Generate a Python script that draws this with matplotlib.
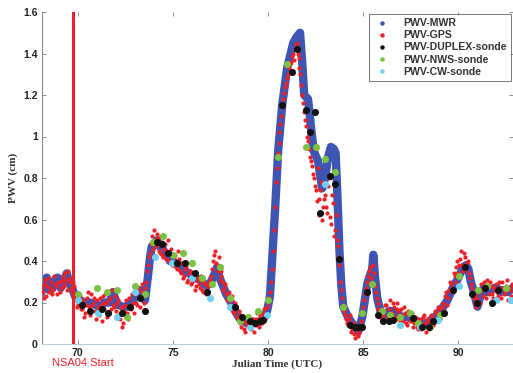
import numpy as np
import matplotlib
matplotlib.use("Agg")
import matplotlib.pyplot as plt
from matplotlib.lines import Line2D

# ---------------- data ----------------
mwr_t = [68.05, 68.2, 68.37, 68.5, 68.68, 68.8, 68.95, 69.1, 69.21, 69.42, 69.58, 69.74, 69.9,
         70.1, 70.4, 70.63, 70.9, 71.16, 71.4, 71.68, 71.84, 72.0, 72.1, 72.35, 72.58, 72.89,
         73.1, 73.26, 73.4, 73.53, 73.68, 73.8, 73.89, 74.0, 74.16, 74.3, 74.47, 74.6, 74.74,
         74.84, 75.0, 75.37, 75.6, 75.89, 76.1, 76.42, 76.6, 76.79, 77.0, 77.2, 77.32, 77.45,
         77.63, 77.8, 78.0, 78.26, 78.53, 78.89, 79.1, 79.42, 79.74, 79.95, 80.1, 80.21, 80.37,
         80.53, 80.74, 81.0, 81.32, 81.5, 81.68, 81.8, 81.9, 82.1, 82.25, 82.4, 82.63, 82.84,
         83.0, 83.15, 83.3, 83.45, 83.55, 83.65, 83.75, 83.85, 83.95, 84.2, 84.42, 84.6, 84.74,
         84.95, 85.1, 85.21, 85.35, 85.47, 85.53, 85.62, 85.74, 85.9, 86.05, 86.4, 86.79, 87.0,
         87.32, 87.6, 87.84, 88.1, 88.37, 88.6, 88.89, 89.2, 89.42, 89.7, 89.95, 90.1, 90.26,
         90.4, 90.53, 90.65, 90.79, 91.0, 91.15, 91.32, 91.5, 91.68, 91.9, 92.05, 92.2, 92.37,
         92.6, 92.84, 93.0]
mwr_v = [0.24, 0.30, 0.32, 0.26, 0.27, 0.31, 0.32, 0.27, 0.29, 0.34, 0.29, 0.26, 0.22,
         0.21, 0.20, 0.20, 0.19, 0.18, 0.20, 0.20, 0.25, 0.21, 0.19, 0.18, 0.18, 0.21,
         0.24, 0.26, 0.23, 0.21, 0.32, 0.42, 0.47, 0.48, 0.50, 0.47, 0.46, 0.43, 0.42,
         0.40, 0.40, 0.37, 0.35, 0.34, 0.32, 0.31, 0.29, 0.28, 0.30, 0.34, 0.37, 0.32,
         0.28, 0.24, 0.21, 0.16, 0.12, 0.10, 0.11, 0.10, 0.12, 0.16, 0.23, 0.40, 0.65,
         0.93, 1.15, 1.33, 1.45, 1.48, 1.50, 1.35, 1.20, 1.18, 1.05, 0.93, 0.88, 0.75,
         0.80, 0.90, 0.95, 0.94, 0.92, 0.70, 0.45, 0.28, 0.18, 0.13, 0.10, 0.08, 0.06,
         0.13, 0.22, 0.29, 0.33, 0.36, 0.43, 0.32, 0.22, 0.16, 0.14, 0.16, 0.15, 0.13,
         0.13, 0.12, 0.11, 0.10, 0.10, 0.12, 0.14, 0.18, 0.21, 0.27, 0.31, 0.34, 0.37,
         0.38, 0.36, 0.30, 0.26, 0.18, 0.23, 0.27, 0.25, 0.26, 0.27, 0.27, 0.25, 0.26,
         0.25, 0.27, 0.26]

gps_t0 = 68.1   # GPS samples every 0.1 day from 68.1
gps_v = [0.27, 0.22, 0.31, 0.28, 0.25, 0.30, 0.26, 0.29, 0.24,
         0.30, 0.27, 0.33, 0.28, 0.31, 0.35, 0.30, 0.25, 0.28, 0.21,
         0.19, 0.23, 0.17, 0.21, 0.15, 0.22, 0.18, 0.24, 0.20, 0.16,
         0.21, 0.14, 0.19, 0.23, 0.17, 0.20, 0.15, 0.22, 0.26, 0.18,
         0.16, 0.21, 0.12, 0.18, 0.10, 0.19, 0.15, 0.22, 0.17, 0.20,
         0.24, 0.19, 0.27, 0.22, 0.25, 0.20, 0.30, 0.38, 0.44, 0.52,
         0.55, 0.47, 0.51, 0.44, 0.49, 0.42, 0.48, 0.45, 0.40, 0.46,
         0.38, 0.43, 0.36, 0.41, 0.34, 0.39, 0.33, 0.37, 0.31, 0.35,
         0.30, 0.34, 0.28, 0.32, 0.27, 0.31, 0.25, 0.29, 0.26, 0.30,
         0.33, 0.40, 0.45, 0.38, 0.42, 0.35, 0.30, 0.27, 0.24, 0.22,
         0.19, 0.23, 0.15, 0.18, 0.12, 0.14, 0.08, 0.11, 0.06, 0.09,
         0.13, 0.07, 0.12, 0.09, 0.15, 0.08, 0.13, 0.10, 0.17, 0.14,
         0.20, 0.25, 0.36, 0.55, 0.78, 0.92, 1.02, 1.10, 1.18, 1.24,
         1.28, 1.33, 1.36, 1.40, 1.42, 1.45, 1.38, 1.30, 1.20, 1.12,
         1.05, 0.98, 0.90, 0.86, 0.80, 0.74, 0.85, 0.70, 0.78, 0.66,
         0.72, 0.63, 0.80, 0.58, 0.68, 0.55, 0.50, 0.42, 0.30, 0.22,
         0.16, 0.12, 0.09, 0.14, 0.07, 0.05, 0.09, 0.04, 0.06, 0.11,
         0.18, 0.24, 0.30, 0.35, 0.32, 0.38, 0.28, 0.22, 0.17, 0.13,
         0.11, 0.16, 0.19, 0.13, 0.21, 0.15, 0.18, 0.12, 0.20, 0.14,
         0.17, 0.11, 0.15, 0.09, 0.14, 0.12, 0.08, 0.13, 0.10, 0.07,
         0.12, 0.09, 0.14, 0.06, 0.11, 0.08, 0.13, 0.10, 0.15, 0.12,
         0.17, 0.14, 0.20, 0.23, 0.19, 0.26, 0.29, 0.25, 0.33, 0.37,
         0.34, 0.41, 0.38, 0.44, 0.36, 0.40, 0.32, 0.27, 0.22, 0.18,
         0.21, 0.25, 0.29, 0.23, 0.27, 0.31, 0.24, 0.28, 0.22, 0.26,
         0.29, 0.23, 0.27, 0.30, 0.24, 0.28, 0.21, 0.26, 0.29, 0.25]

gps2_t0 = 68.15   # interleaved GPS samples, every 0.1 day from 68.15
gps2_v = [0.25, 0.29, 0.23, 0.32, 0.27, 0.24, 0.33, 0.28, 0.30,
          0.25, 0.31, 0.29, 0.34, 0.26, 0.32, 0.27, 0.30, 0.23, 0.18,
          0.24, 0.17, 0.20, 0.13, 0.19, 0.25, 0.14, 0.19, 0.22, 0.12,
          0.18, 0.22, 0.11, 0.20, 0.24, 0.13, 0.21, 0.17, 0.19, 0.23,
          0.20, 0.14, 0.18, 0.08, 0.16, 0.21, 0.12, 0.18, 0.24, 0.15,
          0.20, 0.26, 0.18, 0.29, 0.23, 0.27, 0.35, 0.42, 0.48, 0.46,
          0.50, 0.53, 0.45, 0.52, 0.43, 0.46, 0.41, 0.50, 0.44, 0.38,
          0.42, 0.37, 0.45, 0.35, 0.39, 0.32, 0.36, 0.30, 0.34, 0.29,
          0.33, 0.26, 0.31, 0.29, 0.33, 0.26, 0.30, 0.24, 0.28, 0.31,
          0.36, 0.43, 0.39, 0.35, 0.31, 0.33, 0.26, 0.29, 0.21, 0.25,
          0.21, 0.16, 0.20, 0.13, 0.16, 0.10, 0.13, 0.07, 0.10, 0.12,
          0.08, 0.11, 0.06, 0.12, 0.09, 0.14, 0.10, 0.15, 0.12, 0.18,
          0.22, 0.30, 0.45, 0.66, 0.85, 0.97, 1.06, 1.14, 1.21, 1.26,
          1.30, 1.35, 1.39, 1.37, 1.44, 1.40, 1.33, 1.25, 1.16, 1.08,
          1.00, 0.94, 0.88, 0.82, 0.76, 0.69, 0.62, 0.74, 0.60, 0.70,
          0.66, 0.76, 0.61, 0.72, 0.52, 0.62, 0.47, 0.38, 0.26, 0.19,
          0.14, 0.10, 0.12, 0.06, 0.10, 0.03, 0.07, 0.05, 0.08, 0.15,
          0.21, 0.27, 0.33, 0.37, 0.30, 0.34, 0.25, 0.20, 0.15, 0.17,
          0.14, 0.19, 0.12, 0.17, 0.14, 0.20, 0.13, 0.17, 0.16, 0.11,
          0.14, 0.18, 0.10, 0.16, 0.11, 0.15, 0.10, 0.12, 0.08, 0.11,
          0.07, 0.13, 0.10, 0.12, 0.07, 0.14, 0.09, 0.16, 0.11, 0.18,
          0.12, 0.18, 0.16, 0.25, 0.22, 0.30, 0.27, 0.34, 0.30, 0.40,
          0.38, 0.45, 0.35, 0.42, 0.39, 0.34, 0.29, 0.24, 0.20, 0.23,
          0.26, 0.20, 0.26, 0.30, 0.22, 0.28, 0.30, 0.24, 0.27, 0.21,
          0.25, 0.30, 0.22, 0.27, 0.25, 0.31, 0.27, 0.23, 0.28]

duplex_t = [70.23, 70.65, 71.28, 71.59, 72.33, 72.75, 73.27, 73.53, 74.17, 74.43, 74.75,
            75.22, 75.64, 76.16, 76.79, 78.27, 78.64, 79.05, 79.32, 79.58, 79.74, 80.74,
            81.27, 81.54, 82.01, 82.48, 82.22, 82.74, 83.26, 83.53, 83.74, 84.32, 84.59,
            84.75, 84.96, 85.22, 85.75, 86.06, 86.33, 86.59, 87.64, 88.11, 88.43, 88.69,
            89.22, 89.74, 90.37, 90.73, 90.98, 91.41, 91.78, 92.09]
duplex_v = [0.19, 0.16, 0.17, 0.15, 0.15, 0.18, 0.22, 0.16, 0.49, 0.48, 0.44,
            0.39, 0.39, 0.34, 0.25, 0.18, 0.13, 0.11, 0.10, 0.11, 0.115, 1.15,
            1.31, 1.42, 1.13, 1.12, 1.02, 0.63, 0.81, 0.77, 0.41, 0.09, 0.08,
            0.08, 0.08, 0.25, 0.14, 0.11, 0.11, 0.115, 0.125, 0.08, 0.08, 0.11,
            0.15, 0.26, 0.37, 0.24, 0.20, 0.27, 0.20, 0.26]

nws_t = [70.02, 71.01, 71.54, 72.07, 72.59, 73.01, 73.54, 73.96, 74.48, 75.01, 75.53, 76.01,
         76.53, 77.06, 77.48, 78.0, 78.53, 78.95, 79.47, 80.0, 80.53, 81.0, 82.0, 82.53,
         83.0, 83.53, 83.95, 84.94, 85.48, 86.0, 86.42, 86.95, 87.48, 87.9, 88.53, 89.06,
         90.01, 91.01, 91.53, 92.48]
nws_v = [0.24, 0.27, 0.25, 0.26, 0.13, 0.28, 0.24, 0.49, 0.52, 0.43, 0.44, 0.39,
         0.32, 0.29, 0.37, 0.22, 0.11, 0.13, 0.16, 0.21, 0.90, 1.35, 0.95, 0.95,
         0.89, 0.83, 0.18, 0.15, 0.29, 0.16, 0.14, 0.13, 0.15, 0.10, 0.08, 0.14,
         0.33, 0.26, 0.28, 0.27]

cw_t = [70.02, 71.07, 72.07, 73.01, 74.06, 74.96, 76.01, 76.96, 78.0, 79.05, 79.95, 83.0,
        86.95, 88.0, 88.93, 90.01, 91.96, 92.75]
cw_v = [0.21, 0.15, 0.13, 0.25, 0.42, 0.39, 0.32, 0.22, 0.18, 0.08, 0.14, 0.77,
        0.09, 0.08, 0.115, 0.28, 0.21, 0.21]

start_t = 69.75
labels = ["PWV-MWR", "PWV-GPS", "PWV-DUPLEX-sonde", "PWV-NWS-sonde", "PWV-CW-sonde"]
colors = ["#3f55b3", "#ee2026", "#111111", "#7cc242", "#6fd0f2"]

# ---------------- plot ----------------
fig = plt.figure(figsize=(5.13, 3.73), dpi=100)
ax = fig.add_axes([42 / 513, 29 / 373, 471 / 513, 332 / 373])

gps_t = gps_t0 + 0.1 * np.arange(len(gps_v))
gps2_t = gps2_t0 + 0.1 * np.arange(len(gps2_v))

ax.plot(mwr_t, mwr_v, color=colors[0], lw=6, solid_capstyle="round",
        solid_joinstyle="round", zorder=2)
ax.scatter(gps_t, gps_v, s=9, color=colors[1], marker="o", linewidths=0, zorder=3)
ax.scatter(gps2_t, gps2_v, s=9, color=colors[1], marker="o", linewidths=0, zorder=3)
ax.scatter(duplex_t, duplex_v, s=26, color=colors[2], linewidths=0, zorder=5)
ax.scatter(nws_t, nws_v, s=26, color=colors[3], linewidths=0, zorder=4)
ax.scatter(cw_t, cw_v, s=26, color=colors[4], linewidths=0, zorder=4)

ax.axvline(start_t, color="#ee2026", lw=2.2, zorder=6)

ax.set_xlim(68.12, 92.87)
ax.set_ylim(0, 1.6)
ax.set_xticks([70, 75, 80, 85, 90])
ax.set_yticks(np.arange(0, 1.61, 0.2))
ax.set_yticklabels(["0", "0.2", "0.4", "0.6", "0.8", "1", "1.2", "1.4", "1.6"])

for s in ["top", "right"]:
    ax.spines[s].set_visible(False)
ax.spines["left"].set_color("#8a8a8a")
ax.spines["bottom"].set_color("#b5cbe0")
ax.tick_params(direction="in", length=3, width=0.6, color="#777777",
               top=True, right=True, labelsize=7.5, labelcolor="#222222", pad=3)
for lab in ax.get_xticklabels() + ax.get_yticklabels():
    lab.set_fontfamily("Liberation Sans")
    lab.set_fontweight("bold")

ax.set_ylabel("PWV (cm)", fontfamily="Liberation Serif", fontweight="bold",
              fontsize=8, color="#333333", labelpad=4)
ax.set_xlabel("Julian Time (UTC)", fontfamily="Liberation Serif", fontweight="bold",
              fontsize=8, color="#333333", labelpad=1)

fig.text(52 / 513, 1 - 363 / 373, "NSA04 Start", color="#ee2026", fontsize=8,
         fontfamily="Liberation Sans", va="center", ha="left")

handles = [Line2D([], [], ls="none", marker="o", ms=2.2, color=c, mec=c) for c in colors]
leg = ax.legend(handles, labels, loc="upper right", bbox_to_anchor=(0.996, 0.994),
                frameon=True, fancybox=False, edgecolor="#555555",
                prop={"family": "Liberation Sans", "weight": "bold", "size": 7.6},
                handlelength=1.7, handletextpad=1.2, labelspacing=0.2,
                borderpad=0.4, borderaxespad=0)
leg.get_frame().set_linewidth(0.7)
for t in leg.get_texts():
    t.set_color("#333333")

fig.savefig("out.png", dpi=100)
